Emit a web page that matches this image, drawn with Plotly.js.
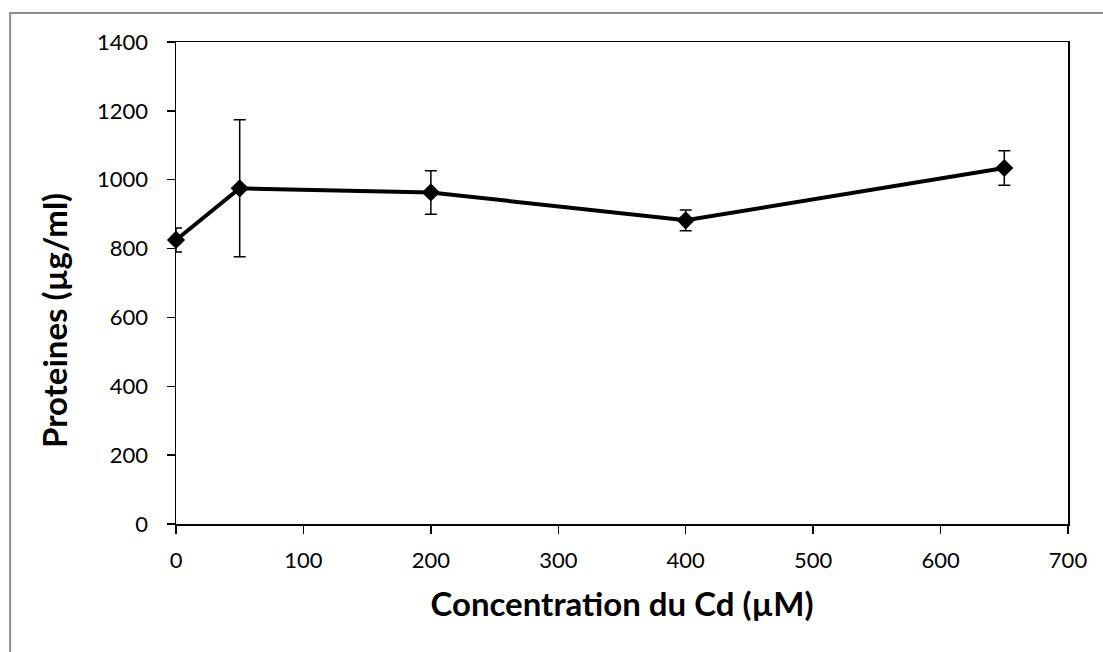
<!DOCTYPE html>
<html>
<head>
<meta charset="utf-8">
<script src="https://cdn.plot.ly/plotly-3.0.1.min.js"></script>
<style>html,body{margin:0;padding:0;background:#fff;}#chart{width:1103px;height:652px;}</style>
</head>
<body>
<div id="chart"></div>
<script>
const concentration = [0, 50, 200, 400, 650];
const proteines = [825, 975, 963, 882, 1034];
const errors = [35, 199, 63, 30, 50];
const xTitle = 'Concentration du Cd (µM)';
const yTitle = 'Proteines (µg/ml)';

const trace = {
  x: concentration,
  y: proteines,
  type: 'scatter',
  mode: 'lines+markers',
  line: {color: '#000', width: 4},
  marker: {symbol: 'diamond', size: 14, color: '#000'},
  error_y: {type: 'data', array: errors, visible: true, color: '#000', thickness: 1.5, width: 6},
  showlegend: false,
  cliponaxis: false
};

const fam = 'Lato, Carlito, Calibri, sans-serif';
const layout = {
  width: 1103, height: 652,
  margin: {l: 176, r: 35, t: 42, b: 128},
  paper_bgcolor: '#fff', plot_bgcolor: '#fff',
  font: {family: fam, color: '#000'},
  xaxis: {
    range: [0, 700], dtick: 100, tick0: 0,
    showgrid: false, zeroline: false,
    showline: true, linecolor: '#000', linewidth: 1.5, mirror: true,
    ticks: 'outside', ticklen: 8, tickwidth: 1.5, tickcolor: '#000',
    ticklabelstandoff: 8,
    tickfont: {family: fam, size: 22, color: '#000'},
    title: {text: xTitle, font: {family: fam, size: 33, color: '#000', weight: 'bold'}, standoff: 21}
  },
  yaxis: {
    range: [0, 1400], dtick: 200, tick0: 0,
    showgrid: false, zeroline: false,
    showline: true, linecolor: '#000', linewidth: 1.5, mirror: true,
    ticks: 'outside', ticklen: 8, tickwidth: 1.5, tickcolor: '#000',
    ticklabelstandoff: 14,
    tickfont: {family: fam, size: 22, color: '#000'}
  },
  annotations: [{
    text: yTitle, textangle: -90, showarrow: false,
    xref: 'paper', yref: 'paper', x: -0.137, y: 0.423,
    xanchor: 'center', yanchor: 'middle',
    font: {family: fam, size: 33, color: '#000', weight: 'bold'}
  }],
  shapes: [{
    type: 'rect', xref: 'paper', yref: 'paper',
    x0: -0.186, x1: 1.3, y0: -0.4, y1: 1.06,
    line: {color: '#8c8c8c', width: 2}, fillcolor: 'rgba(0,0,0,0)', layer: 'below'
  }]
};

Plotly.newPlot('chart', [trace], layout, {displayModeBar: false, staticPlot: true});
</script>
</body>
</html>
